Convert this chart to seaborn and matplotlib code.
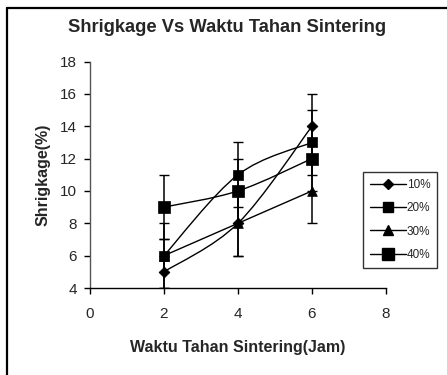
import matplotlib
matplotlib.use("Agg")
import matplotlib.pyplot as plt
from matplotlib.path import Path
from matplotlib.patches import PathPatch
from matplotlib.lines import Line2D
import seaborn as sns

# Holding time (hours) and shrinkage (%) for each additive level
hours = [2, 4, 6]
labels = ["10%", "20%", "30%", "40%"]
shrink_10 = [5, 8, 14]
shrink_20 = [6, 11, 13]
shrink_30 = [6, 8, 10]
shrink_40 = [9, 10, 12]
err_10 = [1, 2, 2]
err_20 = [2, 2, 2]
err_30 = [1, 2, 2]
err_40 = [2, 2, 2]

x_ticks = [0, 2, 4, 6, 8]
y_ticks = [4, 6, 8, 10, 12, 14, 16, 18]

series = [shrink_10, shrink_20, shrink_30, shrink_40]
errors = [err_10, err_20, err_30, err_40]
markers = ["D", "s", "^", "s"]
msizes = [5.5, 6.5, 7.0, 9.0]

sns.set_style("ticks")
plt.rcParams["font.family"] = ["Liberation Sans", "DejaVu Sans"]

fig = plt.figure(figsize=(4.47, 3.75), dpi=100)
ax = fig.add_axes([90 / 447, 87 / 375, 296 / 447, 226.5 / 375])


def smooth_path(xs, ys):
    """Catmull-Rom style Bezier through the points (spreadsheet 'smoothed line')."""
    pts = list(zip(xs, ys))
    n = len(pts)
    verts = [pts[0]]
    codes = [Path.MOVETO]
    for i in range(n - 1):
        p0 = pts[i - 1] if i > 0 else pts[i]
        p1 = pts[i]
        p2 = pts[i + 1]
        p3 = pts[i + 2] if i + 2 < n else pts[i + 1]
        c1 = (p1[0] + (p2[0] - p0[0]) / 6, p1[1] + (p2[1] - p0[1]) / 6)
        c2 = (p2[0] - (p3[0] - p1[0]) / 6, p2[1] - (p3[1] - p1[1]) / 6)
        verts += [c1, c2, p2]
        codes += [Path.CURVE4] * 3
    return Path(verts, codes)


for vals, errs, m, ms in zip(series, errors, markers, msizes):
    ax.errorbar(hours, vals, yerr=errs, fmt="none", ecolor="black",
                elinewidth=1.1, capsize=3.6, capthick=1.0, zorder=2)
    ax.add_patch(PathPatch(smooth_path(hours, vals), fill=False,
                           edgecolor="black", lw=1.0, zorder=3))
    sns.scatterplot(x=hours, y=vals, marker=m, s=ms ** 2,
                    color="black", edgecolor="black", linewidth=0.5,
                    ax=ax, zorder=4, legend=False)

ax.set_xlim(0, 8)
ax.set_ylim(4, 18)
ax.set_xticks(x_ticks)
ax.set_yticks(y_ticks)
ax.tick_params(axis="both", labelsize=11, length=4.5, width=1.0,
               color="black", direction="out")
ax.tick_params(axis="x", pad=9)
ax.tick_params(axis="y", pad=5)
for side in ("top", "right"):
    ax.spines[side].set_visible(False)
for side in ("left", "bottom"):
    ax.spines[side].set_color("black")
    ax.spines[side].set_linewidth(1.0)
ax.spines["left"].set_color("#555555")

ax.set_xlabel("Waktu Tahan Sintering(Jam)", fontsize=11.5,
              fontweight="bold", labelpad=14)
ax.set_ylabel("Shrigkage(%)", fontsize=11.5, fontweight="bold", labelpad=7)

fig.text(227 / 447, 1 - 27 / 375, "Shrigkage Vs Waktu Tahan Sintering",
         ha="center", va="center", fontsize=13.2, fontweight="bold")

handles = [Line2D([], [], color="black", lw=1.0, marker=m, markersize=ms,
                  markerfacecolor="black", markeredgecolor="black")
           for m, ms in zip(markers, msizes)]
leg = fig.legend(handles, labels, loc="upper left",
                 bbox_to_anchor=(363 / 447, 1 - 172 / 375),
                 fontsize=8.5, frameon=True, fancybox=False,
                 handlelength=3.0, handletextpad=0.1, labelspacing=0.95,
                 borderpad=0.6, borderaxespad=0)
leg.get_frame().set_edgecolor("black")
leg.get_frame().set_linewidth(1.0)

# chart-area frame
fig.add_artist(Line2D([7 / 447, 7 / 447], [0, 1 - 8 / 375],
                      transform=fig.transFigure, color="black", lw=1.6))
fig.add_artist(Line2D([7 / 447, 1], [1 - 8 / 375, 1 - 8 / 375],
                      transform=fig.transFigure, color="black", lw=1.6))

fig.savefig("out.png", dpi=100)
